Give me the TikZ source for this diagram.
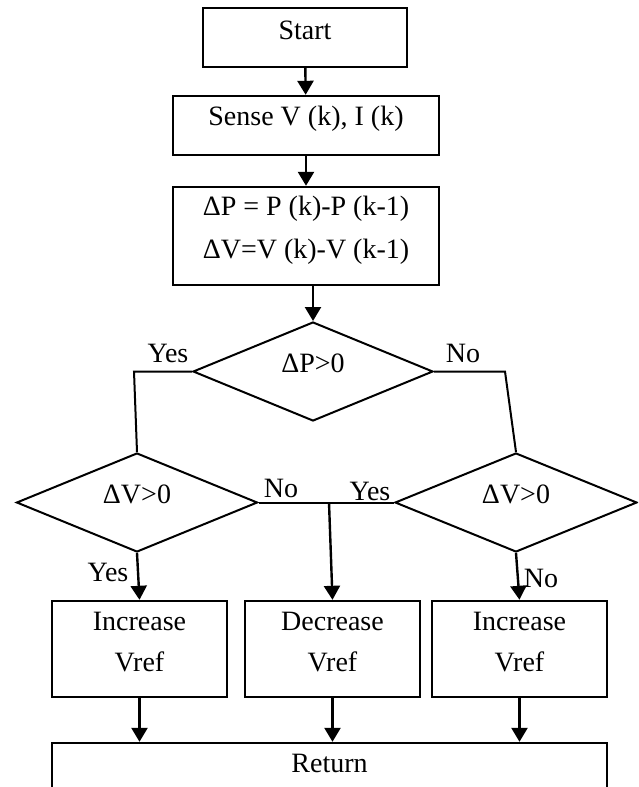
\documentclass[tikz,border=0pt]{standalone}
\usepackage{fontspec}
\setmainfont{Liberation Serif}
\usetikzlibrary{shapes.geometric,arrows.meta}

\begin{document}
\begin{tikzpicture}[x=1pt,y=-1pt,
  box/.style={draw,line width=2.4pt,rectangle,inner sep=0pt},
  dec/.style={draw,line width=2pt,diamond,inner sep=0pt,
              minimum width=241pt,minimum height=99pt},
  txt/.style={font=\fontsize{28}{42}\selectfont,align=center,inner sep=0pt},
  lbl/.style={font=\fontsize{28}{33}\selectfont,inner sep=0pt},
  arr/.style={line width=2.4pt,-{Triangle[width=16pt,length=14pt]}},
  link/.style={line width=2pt}]
\clip (0,0) rectangle (638,787);
\fill[white] (0,0) rectangle (638,787);

% process boxes
\node[box,minimum width=204pt,minimum height=59pt] (start) at (305,37.5) {};
\node[txt] (tstart) at (305,30) {Start};
\node[box,minimum width=266pt,minimum height=59pt] (sense) at (306,125.5) {};
\node[txt] (tsense) at (306,119) {Sense V (k), I (k)};
\node[box,minimum width=266pt,minimum height=98pt] (dp) at (306,236) {};
\node[txt,font=\fontsize{28}{43}\selectfont] (tdp) at (306,230)
  {ΔP = P (k)-P (k-1)\\ΔV=V (k)-V (k-1)};

% decisions
\node[dec,minimum width=240pt] (d1) at (313,371.5) {};
\node[txt] (td1) at (313,363) {ΔP>0};
\node[dec] (d2) at (137,502.5) {};
\node[txt] (td2) at (137,494) {ΔV>0};
\node[dec,minimum width=242pt] (d3) at (516,502.5) {};
\node[txt] (td3) at (516,494) {ΔV>0};

% action boxes
\node[box,minimum width=175pt,minimum height=96pt] (b1) at (139.5,649) {};
\node[txt,font=\fontsize{28}{41}\selectfont] (tb1) at (139.5,642) {Increase\\Vref};
\node[box,minimum width=175pt,minimum height=96pt] (b2) at (332.5,649) {};
\node[txt,font=\fontsize{28}{41}\selectfont] (tb2) at (332.5,642) {Decrease\\Vref};
\node[box,minimum width=175pt,minimum height=96pt] (b3) at (519.5,649) {};
\node[txt,font=\fontsize{28}{41}\selectfont] (tb3) at (519.5,642) {Increase\\Vref};

\node[box,minimum width=555pt,minimum height=80pt] (ret) at (329.5,783) {};
\node[txt] (tret) at (329.5,763) {Return};

% branch labels
\node[lbl] (ly1) at (168,353) {Yes};
\node[lbl] (ln1) at (463,353) {No};
\node[lbl] (ln2) at (281,488) {No};
\node[lbl] (ly3) at (370,491) {Yes};
\node[lbl] (ly2) at (108,572) {Yes};
\node[lbl] (ln3) at (541,578) {No};

% connectors
\coordinate (lk) at (134,371.5);
\coordinate (rk) at (505,371.5);
\coordinate (mid) at (329,502.5);

\draw[arr] (start) -- (sense);
\draw[arr] (sense) -- (dp);
\draw[arr] (dp.south -| d1.north) -- (d1.north);
\draw[link] (d1.west) -- (lk) -- (d2.north);
\draw[link] (d1.east) -- (rk) -- (d3.north);
\draw[link] (d2.east) -- (d3.west);
\draw[arr] (mid) -- (b2.north);
\draw[arr] (d2.south) -- (b1.north);
\draw[arr] (d3.south) -- (b3.north);
\draw[arr] (b1.south) -- (b1.south |- ret.north);
\draw[arr] (b2.south) -- (b2.south |- ret.north);
\draw[arr] (b3.south) -- (b3.south |- ret.north);
\end{tikzpicture}
\end{document}
